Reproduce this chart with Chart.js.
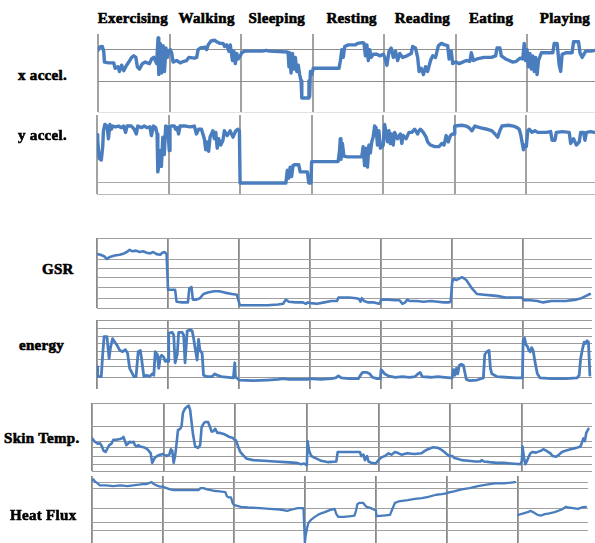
<!DOCTYPE html>
<html><head><meta charset="utf-8">
<script src="https://cdn.jsdelivr.net/npm/chart.js@4.4.0/dist/chart.umd.min.js"></script>
<style>
html,body{margin:0;padding:0;background:#fff;width:595px;height:543px;overflow:hidden;position:relative;}
.lbl{position:absolute;font-family:"Liberation Serif","Times New Roman",serif;font-weight:bold;font-size:15px;letter-spacing:0.3px;color:#000;white-space:nowrap;-webkit-text-stroke:0.6px #000;line-height:1;transform:translateY(-50%);}
.ttl{transform:translate(-50%,-50%);}
.pan{position:absolute;}
</style></head><body>
<script>
// ---- categories / labels ----
const activities = ['Exercising','Walking','Sleeping','Resting','Reading','Eating','Playing'];
const sensors = ['x accel.','y accel.','GSR','energy','Skin Temp.','Heat Flux'];
const segmentStarts = [0,100,200,300,400,500,600];

// ---- series values (x = time within the 7 activity blocks, y = relative sensor level 0-100) ----
const xAccel = [
[0,79],[2,83],[6,84],[8,78],[9,64],[15,63],[22,63],[24,56],[28,58],[30,52],[33,60],[36,53],[40,60],[43,64],[47,70],[50,72],[53,70],[55,58],[58,55],[62,62],[66,64],[72,62],[75,68],[78,70],[82,62],[84,95],[85,48],[87,88],[89,50],[91,85],[93,52],[95,82],[97,70],[99,78],
[101,80],[103,76],[105,64],[110,66],[115,63],[120,65],[124,66],[127,70],[135,69],[138,70],[140,80],[143,82],[150,83],[152,80],[154,86],[158,91],[163,92],[166,90],[170,88],[175,88],[177,84],[180,86],[183,78],[185,86],[188,66],[190,78],[192,62],[194,75],[196,68],[199,72],
[201,76],[205,78],[230,78],[235,79],[240,78],[265,77],[266,74],[267,58],[268,76],[270,50],[272,75],[274,55],[276,70],[278,52],[280,60],[282,48],[284,40],[285,18],[290,18],[294,18],[295,40],[296,20],[297,52],[299,48],
[301,56],[320,56],[337,56],[339,66],[341,80],[343,70],[345,84],[350,86],[360,86],[363,88],[370,89],[372,88],[374,72],[376,86],[378,66],[380,80],[382,70],[385,74],[390,74],[394,72],[399,74],
[401,70],[404,60],[407,78],[410,82],[413,70],[416,78],[419,66],[422,75],[426,70],[432,72],[438,75],[440,84],[444,82],[447,70],[449,52],[452,56],[455,48],[458,58],[461,52],[465,66],[468,72],[472,70],[476,85],[480,88],[485,86],[489,85],[491,68],[494,78],[496,62],[499,64],
[501,64],[505,62],[510,64],[515,66],[520,65],[522,76],[525,66],[530,68],[540,70],[550,70],[556,72],[558,82],[562,82],[564,72],[570,68],[575,66],[580,64],[585,65],[590,69],[594,68],[596,88],[598,66],
[600,80],[602,58],[604,75],[606,55],[608,72],[610,52],[612,70],[614,48],[616,66],[620,76],[630,76],[636,76],[638,88],[642,88],[645,60],[647,52],[649,74],[655,76],[663,76],[665,90],[672,90],[674,76],[677,70],[682,78],[690,78],[695,79]
];
const yAccel = [
[0,75],[1,68],[3,45],[6,43],[8,60],[9,80],[11,88],[14,86],[16,70],[18,88],[20,82],[22,86],[26,85],[30,86],[34,84],[37,86],[40,78],[42,86],[48,86],[52,82],[55,76],[57,86],[62,84],[66,86],[70,84],[74,85],[76,74],[79,86],[82,84],[84,76],[85,28],[87,40],[88,55],[90,35],[92,72],[94,50],[96,86],[98,85],[99,84],
[101,55],[102,85],[104,86],[108,86],[110,82],[112,84],[114,76],[116,86],[124,86],[130,85],[136,86],[139,76],[142,82],[146,82],[150,70],[152,56],[154,66],[156,54],[158,72],[162,80],[164,70],[166,78],[168,58],[170,70],[173,62],[176,68],[178,80],[182,74],[186,80],[190,72],[194,80],[197,82],[199,80],
[200,14],[230,14],[264,14],[266,30],[268,20],[270,34],[272,22],[274,36],[276,37],[282,37],[284,28],[294,28],[296,14],[299,14],
[300,41],[337,41],[339,55],[340,70],[341,44],[343,64],[345,48],[350,47],[360,47],[370,47],[372,60],[374,36],[376,58],[378,34],[380,62],[382,52],[384,66],[386,72],[388,86],[390,84],[392,62],[394,80],[396,58],[399,60],
[400,62],[402,88],[404,78],[406,66],[408,80],[410,64],[412,76],[414,62],[416,78],[420,70],[424,76],[426,64],[428,74],[432,70],[436,78],[440,78],[444,82],[448,76],[450,80],[452,82],[456,78],[460,72],[462,66],[466,62],[472,60],[478,60],[482,64],[485,62],[488,74],[491,66],[494,74],[497,76],[499,76],
[500,86],[510,87],[516,86],[520,84],[524,80],[528,86],[535,84],[545,82],[552,80],[556,76],[560,72],[563,80],[566,86],[575,87],[582,86],[587,84],[590,82],[592,76],[594,66],[596,56],[598,62],
[600,60],[602,80],[604,82],[608,78],[612,80],[616,78],[622,78],[628,78],[634,79],[636,68],[640,68],[642,78],[650,79],[660,78],[662,64],[666,70],[670,62],[674,66],[676,78],[680,78],[682,68],[684,78],[690,79],[695,78]
];
const gsr = [
[0,77],[5,76],[10,74],[14,70],[18,73],[25,75],[32,76],[38,78],[42,80],[46,83],[50,81],[55,82],[60,80],[65,81],[70,79],[75,78],[79,80],[84,77],[89,76],[92,79],[95,80],[98,77],
[100,26],[110,26],[112,9],[120,8],[128,8],[130,28],[133,30],[135,12],[140,12],[145,14],[150,20],[156,22],[165,24],[172,24],[180,22],[190,20],[197,19],
[201,4],[220,4],[240,4],[255,5],[262,6],[266,12],[270,9],[280,8],[290,8],[294,6],[297,8],
[301,7],[310,6],[320,8],[330,10],[338,10],[340,15],[345,15],[355,15],[365,14],[369,13],[371,9],[373,14],[376,10],[382,8],[390,8],[397,6],[399,8],
[400,12],[410,12],[420,11],[426,11],[430,6],[434,8],[437,12],[440,10],[450,10],[460,9],[470,10],[480,9],[488,8],[495,8],[498,9],
[500,36],[502,42],[506,40],[510,42],[514,44],[520,40],[528,28],[535,20],[545,19],[555,18],[565,17],[575,15],[585,15],[598,15],
[601,11],[610,11],[620,10],[628,8],[640,10],[660,10],[675,12],[682,14],[688,17],[694,20]
];
const energy = [
[0,32],[1,18],[6,18],[8,50],[10,76],[14,76],[17,44],[19,60],[22,73],[25,68],[28,64],[32,56],[36,54],[40,57],[43,52],[46,30],[52,18],[55,18],[58,54],[61,56],[63,42],[66,18],[70,20],[74,18],[78,22],[80,20],[82,54],[85,50],[87,30],[89,46],[91,49],[94,46],[96,40],[98,42],
[100,40],[101,81],[106,82],[108,78],[110,38],[113,50],[115,82],[120,82],[122,78],[124,38],[127,84],[131,86],[134,84],[136,74],[138,60],[141,42],[143,72],[145,56],[148,52],[150,20],[155,18],[162,18],[166,22],[169,20],[175,18],[185,17],[192,16],[194,38],[195,17],[197,16],
[200,13],[220,12],[240,13],[255,14],[262,15],[270,14],[285,14],[297,14],
[300,15],[315,14],[330,15],[336,16],[340,19],[344,16],[355,15],[368,15],[371,20],[374,24],[380,24],[384,22],[388,17],[394,15],[399,15],
[400,28],[402,26],[405,22],[410,19],[420,17],[430,18],[440,17],[448,18],[452,22],[455,24],[458,18],[470,17],[480,18],[490,17],[498,16],
[500,16],[502,28],[504,20],[506,30],[508,22],[510,34],[513,36],[516,34],[518,24],[520,14],[525,12],[535,13],[544,16],[546,50],[549,54],[552,56],[554,30],[556,22],[563,18],[575,17],[590,16],[599,16],
[600,70],[602,74],[604,64],[606,62],[608,56],[610,54],[612,60],[614,56],[617,38],[620,22],[624,16],[640,15],[660,15],[676,16],[679,20],[681,44],[684,60],[686,68],[688,66],[690,70],[692,68],[694,20]
];
const skinTemp = [
[0,48],[4,43],[8,40],[11,41],[14,36],[16,30],[19,28],[21,32],[24,38],[27,40],[30,46],[34,46],[39,47],[42,48],[44,50],[46,44],[48,38],[50,40],[53,43],[56,42],[58,43],[60,38],[62,36],[65,38],[67,36],[72,35],[76,33],[79,30],[82,26],[84,12],[86,16],[88,20],[91,22],[95,24],[99,25],
[100,24],[104,22],[108,24],[110,32],[112,30],[114,12],[116,22],[118,40],[120,60],[123,62],[125,66],[127,86],[130,92],[132,94],[135,96],[137,90],[139,72],[141,54],[144,36],[148,34],[151,38],[153,64],[156,70],[158,72],[162,72],[165,64],[167,58],[169,58],[172,62],[175,56],[179,56],[185,54],[192,50],[196,49],[199,46],
[201,45],[204,36],[207,28],[212,22],[216,18],[225,16],[240,15],[255,14],[270,13],[285,12],[292,10],[296,11],[299,9],
[300,12],[301,44],[303,30],[306,22],[312,19],[320,15],[330,13],[341,14],[343,28],[346,28],[360,28],[374,28],[376,22],[379,24],[381,16],[384,22],[386,14],[390,12],[396,11],
[400,16],[404,20],[409,22],[414,26],[418,24],[423,28],[428,26],[432,24],[440,26],[450,25],[460,26],[465,30],[469,32],[476,35],[483,34],[488,31],[492,28],[496,24],[499,22],
[500,22],[503,22],[506,19],[510,18],[516,16],[525,15],[535,14],[542,14],[544,16],[547,14],[555,13],[565,12],[575,12],[585,11],[598,10],
[600,14],[601,36],[603,20],[605,10],[607,14],[610,22],[612,26],[615,28],[620,27],[627,30],[630,32],[634,30],[640,26],[643,22],[648,21],[652,24],[656,28],[662,30],[668,32],[676,34],[682,36],[686,48],[688,44],[690,56],[693,62]
];
const heatFlux = [
[0,93],[2,95],[4,92],[8,89],[11,86],[20,86],[30,85],[40,86],[50,85],[58,86],[66,87],[72,88],[77,88],[82,90],[84,91],[87,88],[91,86],[96,84],[99,84],
[100,84],[105,82],[110,80],[115,79],[130,79],[140,79],[150,79],[153,82],[157,82],[162,80],[171,78],[180,77],[188,76],[190,70],[193,68],[196,68],[198,60],[200,57],
[202,56],[210,54],[220,53],[237,52],[250,51],[265,50],[275,48],[282,50],[290,52],[298,52],
[300,0],[301,10],[303,22],[305,30],[309,35],[314,39],[320,43],[328,46],[335,49],[342,51],[344,44],[347,39],[355,39],[365,40],[370,41],[372,48],[374,58],[377,60],[382,60],[385,56],[387,54],[393,52],[397,50],[400,49],
[401,40],[410,41],[420,42],[423,50],[427,60],[432,62],[445,64],[455,66],[465,67],[474,69],[485,72],[493,73],[499,74],
[501,75],[510,77],[521,80],[532,82],[544,85],[556,87],[568,89],[580,89],[590,90],[596,91],[598,null],
[601,42],[607,44],[614,46],[618,48],[622,46],[628,42],[633,41],[638,43],[643,44],[652,46],[662,50],[668,54],[671,53],[678,52],[685,51],[690,53],[696,54]
];

// ---- horizontal gridline (tick) values per panel ----
const xAccelTicks = [0,38.5,79.5];
const yAccelTicks = [0,14];
const gsrTicks = [0,14,30,44,57,70,99];
const energyTicks = [16,32,43,54,66,76,87,99];
const skinTempTicks = [0,10,22,34,44,66,100];
const heatFluxTicks = [19,30,51,81,91];

// ---- layout (styling only) ----
const panels = [
 {data:xAccel, ticks:xAccelTicks, box:[98,34,595,112], xmax:695, lw:3.4, vCol:'#a2a2a2', vW:2, hCol:(v)=>v===0?'#e2e2e2':'#8e8e8e', lab:[18,75]},
 {data:yAccel, ticks:yAccelTicks, box:[97,115,595,194], xmax:696, lw:3.4, vCol:'#a2a2a2', vW:2, hCol:(v)=>v===0?'#b8b8b8':'#a8a8a8', lab:[18,135]},
 {data:gsr, ticks:gsrTicks, box:[97,238,592,308], xmax:697, lw:2.6, vCol:'#8a8a8a', vW:1.8, hCol:()=> '#a0a0a0', lab:[42,269]},
 {data:energy, ticks:energyTicks, box:[97,320,592,389], xmax:697, lw:2.8, vCol:'#8a8a8a', vW:1.8, hCol:()=> '#9a9a9a', lab:[19,345]},
 {data:skinTemp, ticks:skinTempTicks, box:[92,403,592,471], xmax:698, lw:2.6, vCol:'#8a8a8a', vW:1.8, hCol:()=> '#9a9a9a', lab:[4,438]},
 {data:heatFlux, ticks:heatFluxTicks, box:[92,476,588,543], xmax:699, lw:2.3, vCol:'#8a8a8a', vW:1.8, hCol:()=> '#a0a0a0', lab:[10,515]}
];

(function(){
const PAD = 3;
const charts = [];
panels.forEach((p, i) => {
  const [l,t,r,b] = p.box;
  const div = document.createElement('div');
  div.className = 'pan';
  div.style.left = (l-PAD)+'px';
  div.style.top = (t-PAD)+'px';
  const c = document.createElement('canvas');
  const w = r-l+2*PAD, h = b-t+2*PAD;
  c.width = w; c.height = h;
  c.style.width = w+'px'; c.style.height = h+'px';
  div.appendChild(c);
  document.body.appendChild(div);
  charts.push(new Chart(c, {
    type:'line',
    data:{datasets:[{
      data:p.data.map(([x,y])=>({x,y})),
      borderColor:'#4a7dbd',
      borderWidth:p.lw,
      pointRadius:0,
      tension:0,
      spanGaps:false,
      borderJoinStyle:'round',
      borderCapStyle:'round',
      fill:false
    }]},
    options:{
      responsive:false, animation:false, events:[],
      layout:{padding:PAD},
      plugins:{legend:{display:false}, tooltip:{enabled:false}},
      scales:{
        x:{type:'linear', min:0, max:p.xmax,
           border:{display:false}, ticks:{display:false},
           grid:{drawTicks:false, color:p.vCol, lineWidth:p.vW},
           afterBuildTicks:(a)=>{a.ticks = segmentStarts.map(v=>({value:v}));}},
        y:{type:'linear', min:0, max:100,
           border:{display:false}, ticks:{display:false},
           grid:{drawTicks:false, lineWidth:1, color:(ctx)=>p.hCol(ctx.tick ? ctx.tick.value : -1)},
           afterBuildTicks:(a)=>{a.ticks = p.ticks.map(v=>({value:v}));}}
      }
    }
  }));
  const lab = document.createElement('div');
  lab.className = 'lbl';
  lab.textContent = sensors[i];
  lab.style.left = p.lab[0]+'px';
  lab.style.top = p.lab[1]+'px';
  document.body.appendChild(lab);
});

// activity titles centred over the blocks of the top chart
const topChart = charts[0];
const titleX = [132,208,277,355,425,491,567];
activities.forEach((a, i) => {
  const d = document.createElement('div');
  d.className = 'lbl ttl';
  d.textContent = a;
  const px = topChart.scales.x.getPixelForValue(segmentStarts[i] + 50) + panels[0].box[0] - PAD;
  d.style.left = (0.5*px + 0.5*titleX[i])+'px';
  d.style.top = '18px';
  document.body.appendChild(d);
});
})();
</script>
</body></html>
